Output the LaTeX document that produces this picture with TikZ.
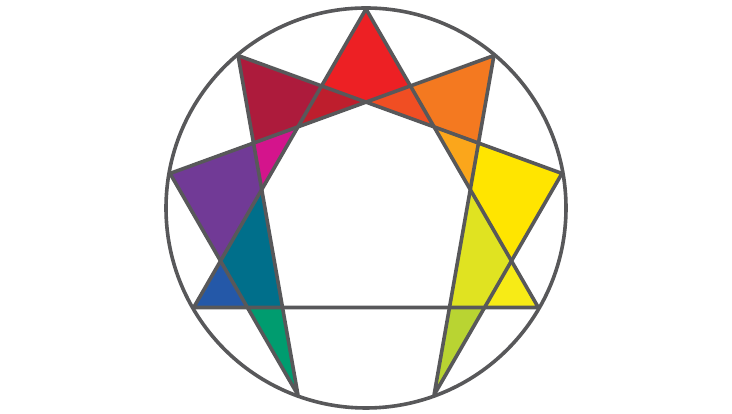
\documentclass[tikz,border=0pt]{standalone}
\definecolor{lineg}{HTML}{58585A}
\definecolor{cred}{HTML}{ED2024}
\definecolor{cdred}{HTML}{BE1E2D}
\definecolor{corred}{HTML}{F04E23}
\definecolor{cmaroon}{HTML}{AD1B3C}
\definecolor{corange}{HTML}{F47920}
\definecolor{cmagenta}{HTML}{D4148C}
\definecolor{coryel}{HTML}{FBA61B}
\definecolor{cpurple}{HTML}{713A96}
\definecolor{cyellow}{HTML}{FFE500}
\definecolor{cteal}{HTML}{006F8B}
\definecolor{cygreen}{HTML}{E0E321}
\definecolor{cblue}{HTML}{2458A8}
\definecolor{clyellow}{HTML}{F7EB16}
\definecolor{cgreen}{HTML}{009C6F}
\definecolor{clgreen}{HTML}{B9D432}
\begin{document}
\begin{tikzpicture}[x=1pt,y=1pt,
  edge/.style={draw=lineg,line width=3.6pt,line join=round,line cap=round}]
\useasboundingbox (0,0) rectangle (732,414);
\coordinate (O) at (366,206);
\foreach \n/\a in {9/90,1/50,2/10,3/-30,4/-70,5/-110,6/-150,7/170,8/130}
  \coordinate (P\n) at ([shift={(366,206)}]\a:199);
\coordinate (A) at (intersection of P9--P6 and P8--P2);
\coordinate (B) at (intersection of P9--P3 and P7--P1);
\coordinate (C) at (intersection of P8--P2 and P7--P1);
\coordinate (D) at (intersection of P9--P6 and P7--P1);
\coordinate (E) at (intersection of P9--P3 and P8--P2);
\coordinate (F) at (intersection of P8--P5 and P7--P1);
\coordinate (G) at (intersection of P9--P6 and P8--P5);
\coordinate (H) at (intersection of P9--P6 and P5--P7);
\coordinate (I) at (intersection of P5--P7 and P3--P6);
\coordinate (J) at (intersection of P8--P5 and P3--P6);
\coordinate (K) at (intersection of P1--P4 and P2--P8);
\coordinate (L) at (intersection of P9--P3 and P1--P4);
\coordinate (M) at (intersection of P9--P3 and P4--P2);
\coordinate (N) at (intersection of P4--P2 and P3--P6);
\coordinate (Q) at (intersection of P1--P4 and P3--P6);
% fills
\fill[cred] (P9) -- (A) -- (C) -- (B) -- cycle;
\fill[cdred] (A) -- (C) -- (D) -- cycle;
\fill[corred] (B) -- (C) -- (E) -- cycle;
\fill[cmaroon] (P8) -- (A) -- (D) -- (F) -- cycle;
\fill[cmagenta] (F) -- (D) -- (G) -- cycle;
\fill[cpurple] (P7) -- (F) -- (G) -- (H) -- cycle;
\fill[cteal] (G) -- (H) -- (I) -- (J) -- cycle;
\fill[cblue] (H) -- (P6) -- (I) -- cycle;
\fill[cgreen] (I) -- (J) -- (P5) -- cycle;
\fill[corange] (P1) -- (B) -- (E) -- (K) -- cycle;
\fill[coryel] (E) -- (K) -- (L) -- cycle;
\fill[cyellow] (P2) -- (K) -- (L) -- (M) -- cycle;
\fill[cygreen] (L) -- (M) -- (N) -- (Q) -- cycle;
\fill[clyellow] (M) -- (P3) -- (N) -- cycle;
\fill[clgreen] (N) -- (Q) -- (P4) -- cycle;
% lines
\draw[edge] (P9) -- (P3) -- (P6) -- cycle;
\draw[edge] (P1) -- (P4) -- (P2) -- (P8) -- (P5) -- (P7) -- cycle;
\draw[edge] (O) circle (200);
\end{tikzpicture}
\end{document}
